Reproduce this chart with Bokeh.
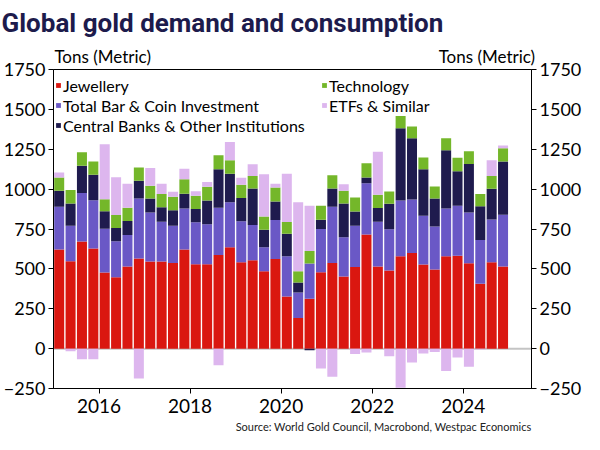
import numpy as np
from bokeh.plotting import figure
from bokeh.models import (Range1d, Legend, LegendItem, LinearAxis, FixedTicker,
                          Title, Span, ColumnDataSource)
from bokeh.embed import file_html
from bokeh.resources import INLINE

# ---- data (tonnes, quarterly 2015Q1 .. 2024Q4) ----
quarters = [f"{y}Q{q}" for y in range(2015, 2025) for q in range(1, 5)]
jewellery = [621, 548, 671, 627, 477, 448, 515, 565, 546, 546, 537, 621,
             529, 529, 587, 635, 542, 554, 485, 562, 327, 192, 313, 479,
             537, 452, 512, 715, 515, 490, 579, 600, 527, 496, 579, 583,
             535, 406, 542, 515]
bar_coin = [268, 223, 304, 304, 275, 225, 198, 377, 308, 250, 234, 258,
            263, 250, 296, 282, 256, 221, 150, 244, 252, 160, 220, 271,
            353, 246, 259, 322, 281, 258, 350, 335, 306, 269, 300, 313,
            319, 275, 268, 325]
central_banks = [101, 139, 171, 159, 110, 83, 87, 110, 88, 91, 96, 92,
                 83, 150, 242, 179, 146, 229, 111, 117, 142, 63, -10, 58,
                 114, 212, 89, 36, 85, 160, 452, 384, 292, 177, 365, 216,
                 304, 211, 192, 333]
technology = [83, 84, 85, 83, 75, 81, 83, 83, 79, 82, 85, 91,
              83, 86, 87, 85, 83, 79, 83, 87, 73, 70, 79, 88,
              83, 80, 88, 89, 84, 77, 77, 73, 73, 75, 75, 84,
              79, 77, 81, 83]
etfs = [31, -17, -67, -67, 344, 238, 150, -187, 112, 64, 31, 65,
        29, 29, -104, 115, 44, 73, 265, 23, 302, 432, 284, -125,
        -177, 41, -33, -25, 270, -48, -246, -87, -31, -21, -140, -56,
        -113, -6, 98, 17]

series_names = ["Jewellery", "Total Bar & Coin Investment",
                "Central Banks & Other Institutions", "Technology", "ETFs & Similar"]
series_vals = [jewellery, bar_coin, central_banks, technology, etfs]
colors = ["#da1710", "#6a58c6", "#1f1b4e", "#74b72a", "#ddb6ee"]

y_ticks = [-250, 0, 250, 500, 750, 1000, 1250, 1500, 1750]
x_ticks = [2016, 2018, 2020, 2022, 2024]
unit_label = "Tons (Metric)"

FONT = "Lato"

# x position of each quarter (mid-quarter, in fractional years)
xpos = np.array([int(s[:4]) + (int(s[-1]) - 0.5) / 4 for s in quarters])

p = figure(width=584, height=434, x_range=Range1d(2015.0, 2025.5),
           y_range=Range1d(-250, 1750), output_backend="svg",
           toolbar_location=None, min_border_left=0, min_border_right=0,
           min_border_top=0, min_border_bottom=0, background_fill_color="white",
           border_fill_color="white")

# stacked bars: positives upward, negatives downward
pos_base = np.zeros(len(xpos))
neg_base = np.zeros(len(xpos))
renderers = []
for name, vals, col in zip(series_names, series_vals, colors):
    v = np.array(vals, dtype=float)
    bottom = np.where(v >= 0, pos_base, neg_base + v)
    top = np.where(v >= 0, pos_base + v, neg_base)
    pos_base = np.where(v >= 0, pos_base + v, pos_base)
    neg_base = np.where(v < 0, neg_base + v, neg_base)
    src = ColumnDataSource(dict(x=xpos, bottom=bottom, top=top))
    r = p.vbar(x="x", width=0.22, bottom="bottom", top="top", source=src,
               fill_color=col, line_color=None)
    renderers.append(r)

zero = Span(location=0, dimension="width", line_color="#c4c4c4", line_width=2,
            level="underlay")
p.add_layout(zero)

p.xgrid.visible = False
p.ygrid.visible = False
p.outline_line_color = "black"
p.outline_line_width = 1

# axes styling
def style_axis(ax, fs="18px"):
    ax.axis_line_color = "black"
    ax.major_tick_line_color = "black"
    ax.major_tick_out = 5
    ax.major_tick_in = 0
    ax.minor_tick_line_color = None
    ax.major_label_text_font = FONT
    ax.major_label_text_font_size = fs
    ax.major_label_text_color = "black"
    ax.major_label_standoff = 3

p.xaxis.ticker = FixedTicker(ticks=x_ticks)
p.yaxis.ticker = FixedTicker(ticks=y_ticks)
style_axis(p.xaxis[0], "19px")
style_axis(p.yaxis[0])
p.xaxis.major_label_standoff = 5

right = LinearAxis(ticker=FixedTicker(ticks=y_ticks))
style_axis(right)
p.add_layout(right, "right")

# unit labels above the frame, via a label-only top axis
unit_pos = [2016.08, 2024.52]
top_axis = LinearAxis(ticker=FixedTicker(ticks=unit_pos),
                      major_label_overrides={unit_pos[0]: unit_label, unit_pos[1]: unit_label})
top_axis.axis_line_color = None
top_axis.major_tick_line_color = None
top_axis.minor_tick_line_color = None
top_axis.major_tick_out = 0
top_axis.major_tick_in = 0
top_axis.major_label_standoff = 3
top_axis.major_label_text_font = FONT
top_axis.major_label_text_font_size = "17px"
top_axis.major_label_text_color = "black"
p.add_layout(top_axis, "above")

# title
p.title.text = "Global gold demand and consumption"
p.title.text_font = "Roboto"
p.title.text_font_size = "26px"
p.title.text_font_style = "bold"
p.title.text_color = "#1d1b4c"
p.title.align = "left"
p.title.offset = -52
p.title.standoff = 10

# source
p.add_layout(Title(text="Source: World Gold Council, Macrobond, Westpac Economics",
                   align="right", text_font=FONT, text_font_size="11px",
                   text_font_style="normal", text_color="#222222", standoff=4), "below")

# legends (two columns)
LH = 20
PAD = 5
def make_legend(idx, x, frame_h=320):
    h = LH * len(idx) + 2 * PAD
    leg = Legend(items=[LegendItem(label=series_names[i], renderers=[renderers[i]]) for i in idx],
                 location=(x, frame_h - h + 3), background_fill_alpha=0, border_line_color=None,
                 glyph_width=6, glyph_height=6, label_standoff=2, spacing=0,
                 padding=PAD, margin=0, label_height=LH,
                 label_text_font=FONT, label_text_font_size="16px",
                 label_text_color="black")
    return leg

p.add_layout(make_legend([0, 1, 2], 2), "center")
p.add_layout(make_legend([3, 4], 268), "center")

open("out.html", "w").write(file_html(p, INLINE))
